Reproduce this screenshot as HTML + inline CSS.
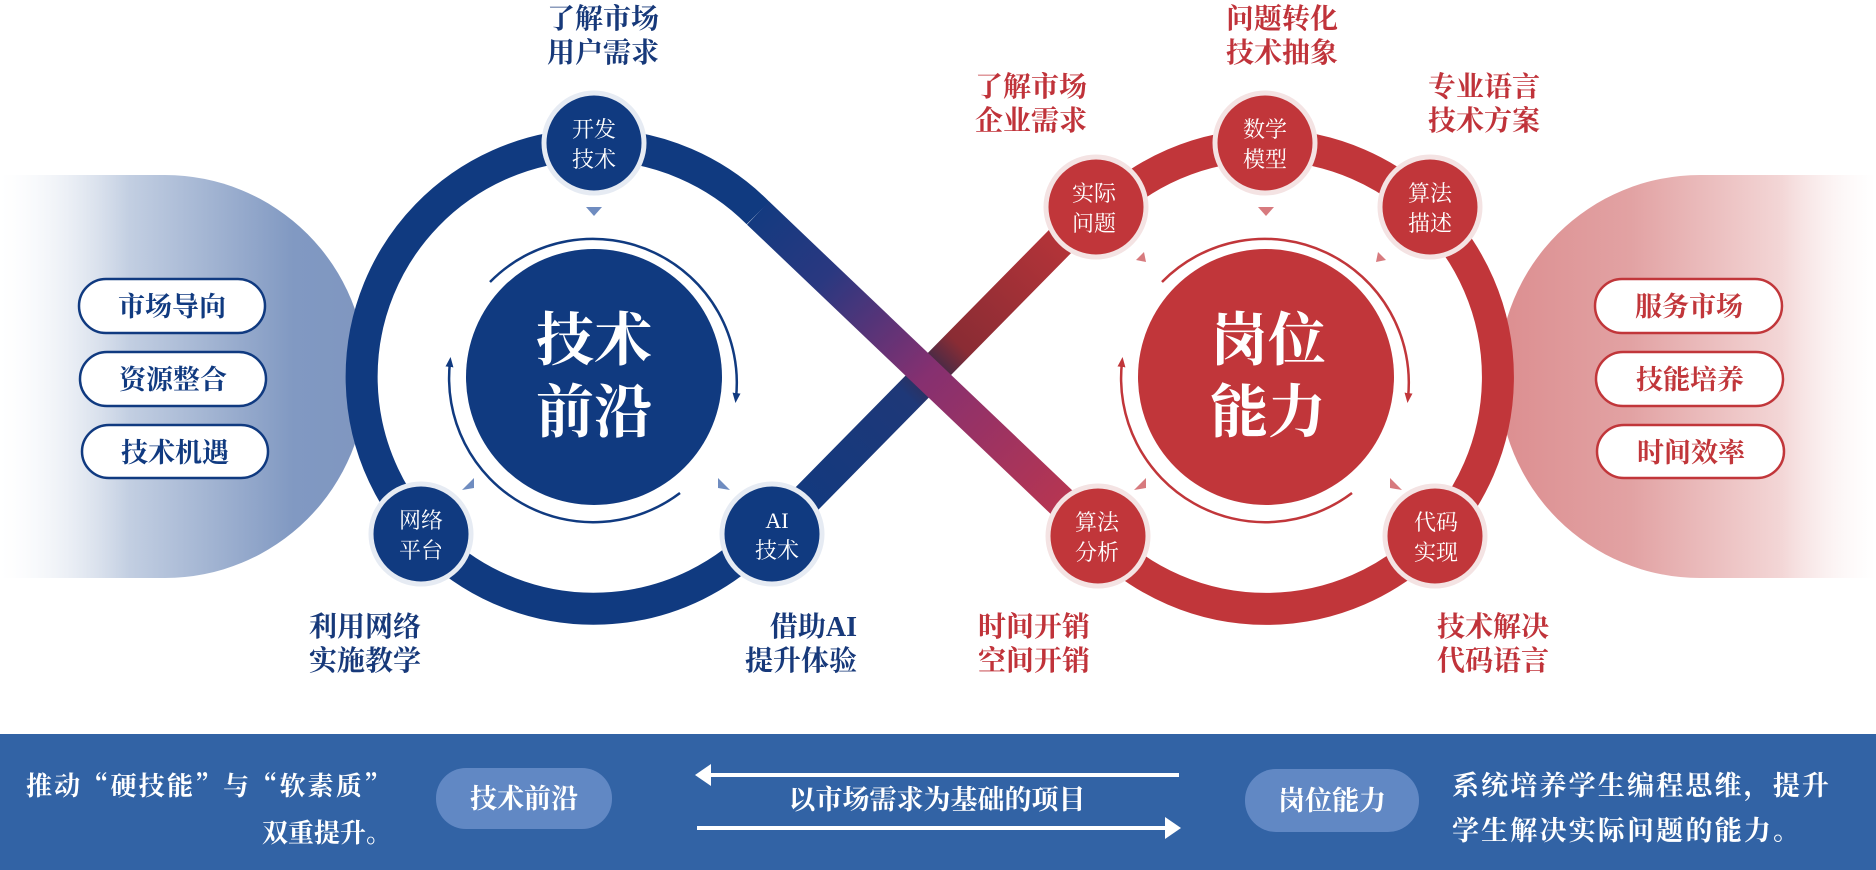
<!DOCTYPE html>
<html><head><meta charset="utf-8"><style>
html,body{margin:0;padding:0;background:#fff;}
svg{display:block;}
text{font-family:"Liberation Serif","Noto Serif CJK SC",serif;}
.cjk{font-family:"Noto Serif CJK SC",serif;}
</style></head><body>
<svg width="1876" height="870" viewBox="0 0 1876 870" xmlns="http://www.w3.org/2000/svg">
<defs>
<linearGradient id="lbg" x1="0" y1="0" x2="1" y2="0">
<stop offset="0" stop-color="#ffffff" stop-opacity="0.2"/>
<stop offset="0.35" stop-color="#c3cfe2"/>
<stop offset="0.8" stop-color="#8199c2"/>
<stop offset="1" stop-color="#7f96c0"/>
</linearGradient>
<linearGradient id="rbg" x1="0" y1="0" x2="1" y2="0">
<stop offset="0" stop-color="#dc8e90"/>
<stop offset="0.35" stop-color="#e2a2a3"/>
<stop offset="0.75" stop-color="#f3d6d6"/>
<stop offset="1" stop-color="#ffffff" stop-opacity="0.3"/>
</linearGradient>
<linearGradient id="d1" gradientUnits="userSpaceOnUse" x1="758" y1="213" x2="1097" y2="536">
<stop offset="0" stop-color="#143a80"/>
<stop offset="0.2" stop-color="#2a3880"/>
<stop offset="0.5" stop-color="#863070"/>
<stop offset="1" stop-color="#c2374a"/>
</linearGradient>
<linearGradient id="d2" gradientUnits="userSpaceOnUse" x1="772" y1="534" x2="1094" y2="207">
<stop offset="0" stop-color="#103a80"/>
<stop offset="0.42" stop-color="#1e3878"/>
<stop offset="0.5" stop-color="#3a2a4a"/>
<stop offset="0.58" stop-color="#8a2c34"/>
<stop offset="1" stop-color="#c1363a"/>
</linearGradient>
<marker id="ab" markerWidth="10" markerHeight="8" refX="5" refY="4" orient="auto" markerUnits="userSpaceOnUse"><path d="M0,0 L10,4 L0,8 Z" fill="#103a80"/></marker>
<marker id="ar" markerWidth="10" markerHeight="8" refX="5" refY="4" orient="auto" markerUnits="userSpaceOnUse"><path d="M0,0 L10,4 L0,8 Z" fill="#c1363a"/></marker>
</defs>

<path d="M0,175 H165 A201,201 0 0 1 165,578 H0 Z" fill="url(#lbg)"/>
<path d="M1876,175 H1700 A201,201 0 0 0 1700,578 H1876 Z" fill="url(#rbg)"/>

<path d="M758,213 A232,232 0 1 0 766,532" fill="none" stroke="#103a80" stroke-width="32"/>
<path d="M1102,213 A232,232 0 1 1 1102,541" fill="none" stroke="#c1363a" stroke-width="32"/>
<line x1="772" y1="534" x2="1094" y2="207" stroke="url(#d2)" stroke-width="32"/>
<line x1="758" y1="213" x2="1097" y2="536" stroke="url(#d1)" stroke-width="32"/>

<circle cx="594" cy="377" r="128" fill="#103a80"/>
<circle cx="1266" cy="377" r="128" fill="#c1363a"/>

<path d="M490,282 A144,144 0 0 1 736,398" fill="none" stroke="#103a80" stroke-width="2.5" marker-end="url(#ab)"/>
<path d="M680,493 A144,144 0 0 1 450,362" fill="none" stroke="#103a80" stroke-width="2.5" marker-end="url(#ab)"/>
<path d="M1162,282 A144,144 0 0 1 1408,398" fill="none" stroke="#c1363a" stroke-width="2.5" marker-end="url(#ar)"/>
<path d="M1352,493 A144,144 0 0 1 1122,362" fill="none" stroke="#c1363a" stroke-width="2.5" marker-end="url(#ar)"/>

<g fill="#6f8cc0">
<path d="M586,207 h16 l-8,9 z"/>
<path d="M462,490 l12,-12 l0,10 z"/>
<path d="M730,490 l-12,-12 l0,10 z"/>
</g>
<g fill="#d77a7e">
<path d="M1258,207 h16 l-8,9 z"/>
<path d="M1146,262 l-10,-2 l8,-8 z"/>
<path d="M1376,262 l10,-2 l-8,-8 z"/>
<path d="M1134,490 l12,-12 l0,10 z"/>
<path d="M1402,490 l-12,-12 l0,10 z"/>
</g>

<g stroke="#e6ebf3" stroke-width="5" fill="#103a80">
<circle cx="594" cy="143" r="50"/>
<circle cx="421" cy="534" r="50"/>
<circle cx="772" cy="534" r="50"/>
</g>
<g stroke="#f4e3e3" stroke-width="5" fill="#c1363a">
<circle cx="1265" cy="143" r="50"/>
<circle cx="1096" cy="207" r="50"/>
<circle cx="1430" cy="207" r="50"/>
<circle cx="1098" cy="536" r="50"/>
<circle cx="1435" cy="536" r="50"/>
</g>
<g fill="#fff" font-size="22" text-anchor="middle">
<text x="594" y="137">开发</text><text x="594" y="167">技术</text>
<text x="421" y="528">网络</text><text x="421" y="558">平台</text>
<text x="777" y="528">AI</text><text x="777" y="558">技术</text>
<text x="1265" y="137">数学</text><text x="1265" y="167">模型</text>
<text x="1094" y="201">实际</text><text x="1094" y="231">问题</text>
<text x="1430" y="201">算法</text><text x="1430" y="231">描述</text>
<text x="1097" y="530">算法</text><text x="1097" y="560">分析</text>
<text x="1436" y="530">代码</text><text x="1436" y="560">实现</text>
</g>
<g fill="#fff" font-size="58" font-weight="bold" text-anchor="middle">
<text x="594" y="360">技术</text><text x="594" y="432">前沿</text>
<text x="1268" y="360">岗位</text><text x="1268" y="432">能力</text>
</g>

<g fill="#fff" stroke="#103a80" stroke-width="2.5">
<rect x="79" y="279" width="186" height="54" rx="27"/>
<rect x="80" y="352" width="186" height="54" rx="27"/>
<rect x="82" y="425" width="186" height="53" rx="27"/>
</g>
<g fill="#fff" stroke="#c1363a" stroke-width="2.5">
<rect x="1595" y="279" width="187" height="54" rx="27"/>
<rect x="1596" y="352" width="187" height="54" rx="27"/>
<rect x="1597" y="425" width="187" height="53" rx="27"/>
</g>
<g font-size="27" font-weight="bold" text-anchor="middle" fill="#103a80">
<text x="172" y="316">市场导向</text>
<text x="173" y="389">资源整合</text>
<text x="175" y="462">技术机遇</text>
</g>
<g font-size="27" font-weight="bold" text-anchor="middle" fill="#c1363a">
<text x="1689" y="316">服务市场</text>
<text x="1690" y="389">技能培养</text>
<text x="1691" y="462">时间效率</text>
</g>

<g font-size="28" font-weight="bold" fill="#17397a">
<text x="547" y="28">了解市场</text><text x="547" y="62">用户需求</text>
<text x="309" y="636">利用网络</text><text x="309" y="670">实施教学</text>
<text x="857" y="636" text-anchor="end">借助AI</text><text x="857" y="670" text-anchor="end">提升体验</text>
</g>
<g font-size="28" font-weight="bold" fill="#c0333a">
<text x="975" y="96">了解市场</text><text x="975" y="130">企业需求</text>
<text x="1226" y="28">问题转化</text><text x="1226" y="62">技术抽象</text>
<text x="1428" y="96">专业语言</text><text x="1428" y="130">技术方案</text>
<text x="978" y="636">时间开销</text><text x="978" y="670">空间开销</text>
<text x="1437" y="636">技术解决</text><text x="1437" y="670">代码语言</text>
</g>

<rect x="0" y="734" width="1876" height="136" fill="#3263a5"/>
<g fill="#fff" font-size="26" font-weight="bold">
<text x="26" y="795" class="cjk" textLength="364" lengthAdjust="spacing">推动“硬技能”与“软素质”</text>
<text x="392" y="842" text-anchor="end">双重提升。</text>
<text x="1452" y="795" font-size="27" textLength="377" lengthAdjust="spacing">系统培养学生编程思维，提升</text>
<text x="1452" y="840" font-size="27" textLength="348" lengthAdjust="spacing">学生解决实际问题的能力。</text>
</g>
<rect x="436" y="768" width="176" height="61" rx="30" fill="#6188c4"/>
<rect x="1245" y="769" width="174" height="63" rx="31" fill="#6188c4"/>
<g fill="#fff" font-size="27" font-weight="bold" text-anchor="middle">
<text x="524" y="808">技术前沿</text>
<text x="1332" y="810">岗位能力</text>
<text x="937" y="809">以市场需求为基础的项目</text>
</g>
<g stroke="#fff" stroke-width="4">
<line x1="705" y1="775" x2="1179" y2="775"/>
<line x1="697" y1="828" x2="1170" y2="828"/>
</g>
<g fill="#fff">
<path d="M695,775 l16,-11 v22 z"/>
<path d="M1181,828 l-16,-11 v22 z"/>
</g>
</svg>
</body></html>
